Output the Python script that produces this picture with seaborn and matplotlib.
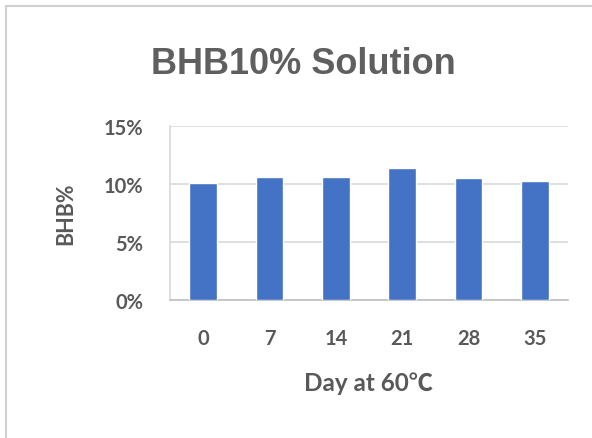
import matplotlib
matplotlib.use("Agg")
import matplotlib.pyplot as plt
import matplotlib.ticker as mticker
from matplotlib.patches import Rectangle
import seaborn as sns
import pandas as pd

days = ["0", "7", "14", "21", "28", "35"]
bhb_pct = [10.05, 10.6, 10.6, 11.4, 10.5, 10.3]
y_ticks = [0, 5, 10, 15]

TEXT = "#595959"
GRID = "#d9d9d9"
BAR = "#4472C4"

sns.set_theme(style="white")
plt.rcParams["font.family"] = ["Lato", "Noto Sans CJK JP", "DejaVu Sans"]

fig = plt.figure(figsize=(5.92, 4.39), dpi=100)
fig.patch.set_facecolor("white")

# chart frame (only top and left edges fall inside the image)
fig.patches.append(Rectangle((6 / 592, -0.1), 1.2, 1 - 7 / 439 + 0.1,
                             transform=fig.transFigure, fill=False,
                             edgecolor="#d0d0d0", linewidth=1.5))

ax = fig.add_axes([170 / 592, 1 - 301 / 439, 398 / 592, 174 / 439])

df = pd.DataFrame({"day": days, "bhb": bhb_pct})
sns.barplot(data=df, x="day", y="bhb", color=BAR, saturation=1,
            width=0.42, ax=ax, zorder=3)

ax.set_ylim(0, 15)
ax.set_yticks(y_ticks)
ax.yaxis.set_major_formatter(mticker.FuncFormatter(lambda v, p: f"{v:.0f}%"))
ax.grid(axis="y", color=GRID, linewidth=1.2, zorder=0)
ax.set_axisbelow(True)

for s in ["top", "right"]:
    ax.spines[s].set_visible(False)
ax.spines["left"].set_color(GRID)
ax.spines["left"].set_linewidth(1.2)
ax.spines["bottom"].set_color("#bfbfbf")
ax.spines["bottom"].set_linewidth(1.2)

ax.tick_params(axis="both", length=0, labelsize=14.5, colors=TEXT)
ax.tick_params(axis="y", pad=19)
ax.tick_params(axis="x", pad=20)
for lbl in ax.get_xticklabels() + ax.get_yticklabels():
    lbl.set_fontweight("bold")

ax.set_xlabel("Day at 60℃", fontsize=17.5, color=TEXT, fontweight="bold",
              labelpad=17)
ax.set_ylabel("BHB%", fontsize=15.5, color=TEXT, fontweight="bold",
              labelpad=20)

fig.text(0.513, 1 - 64 / 439, "BHB10% Solution", ha="center", va="center",
         fontsize=26, fontweight="bold", color="#5f5f5f",
         family=["Liberation Sans", "DejaVu Sans"])

fig.savefig("out.png", dpi=100, facecolor="white")
